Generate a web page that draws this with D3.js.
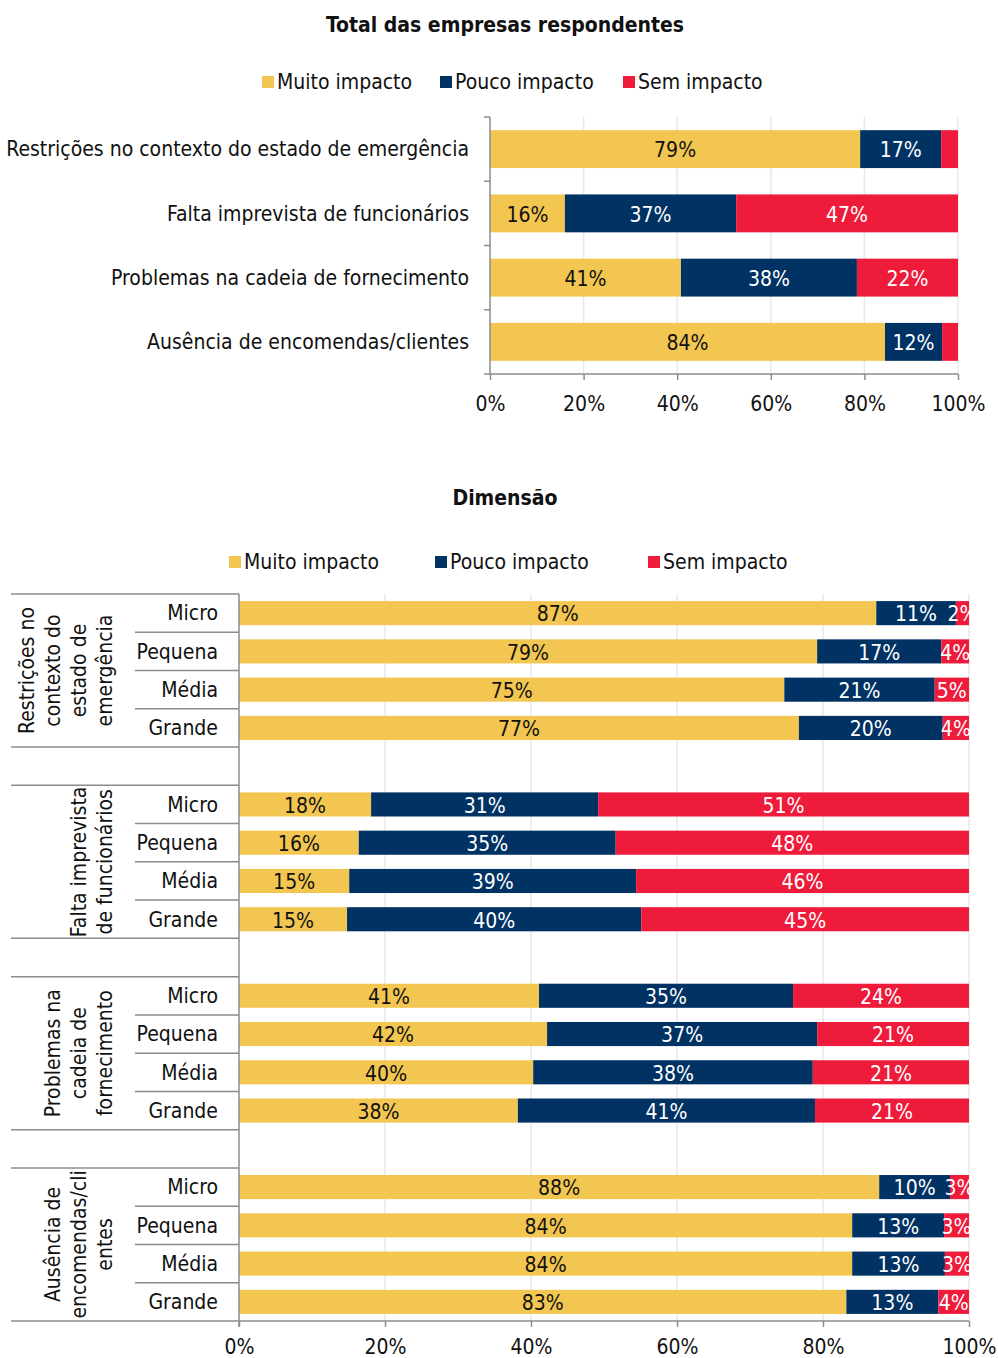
<!DOCTYPE html>
<html><head><meta charset="utf-8">
<script src="https://cdn.jsdelivr.net/npm/d3@7"></script>
<style>
html,body{margin:0;padding:0;background:#fff;}
svg text{font-family:"DejaVu Sans Condensed","DejaVu Sans",sans-serif;}
</style></head>
<body><svg id="c" width="998" height="1358"></svg>
<script>
// ---------- DATA ----------
const seriesNames = ["Muito impacto", "Pouco impacto", "Sem impacto"];
const seriesColors = ["#F2C650", "#003263", "#EE1B3B"];
const labelColors = ["#111", "#fff", "#fff"];

const topTitle = "Total das empresas respondentes";
const topCategories = ["Restrições no contexto do estado de emergência", "Falta imprevista de funcionários", "Problemas na cadeia de fornecimento", "Ausência de encomendas/clientes"];
const topMuito = [79.1, 16.0, 40.8, 84.4];
const topPouco = [17.3, 36.6, 37.6, 12.2];
const topSem   = [3.6, 47.4, 21.6, 3.4];

const bottomTitle = "Dimensão";
const groups = [
  ["Restrições no", "contexto do", "estado de", "emergência"],
  ["Falta imprevista", "de funcionários"],
  ["Problemas na", "cadeia de", "fornecimento"],
  ["Ausência de", "encomendas/cli", "entes"]
];
const sizes = ["Micro", "Pequena", "Média", "Grande"];
// per group, per size
const botMuito = [[87.3, 79.2, 74.7, 76.7], [18.1, 16.4, 15.1, 14.8], [41.1, 42.2, 40.3, 38.2], [87.7, 84.0, 84.0, 83.2]];
const botPouco = [[10.9, 17.0, 20.6, 19.7], [31.1, 35.2, 39.3, 40.3], [34.8, 37.0, 38.3, 40.7], [9.7, 12.6, 12.7, 12.6]];
const botSem   = [[1.8, 3.8, 4.7, 3.6], [50.8, 48.4, 45.6, 44.9], [24.1, 20.8, 21.4, 21.1], [2.6, 3.4, 3.3, 4.2]];

const xTicks = [0, 20, 40, 60, 80, 100];

// ---------- DRAW ----------
const svg = d3.select("#c");
const FS = 21;
const axisColor = "#8c8c8c";
const gridColor = "#e8e8e8";

function legend(y, xs) {
  const g = svg.append("g");
  seriesNames.forEach((n, i) => {
    g.append("rect").attr("x", xs[i]).attr("y", y - 6).attr("width", 12).attr("height", 12).attr("fill", seriesColors[i]);
    g.append("text").attr("x", xs[i] + 15).attr("y", y).attr("dy", "0.35em").attr("font-size", FS).attr("fill", "#111").text(n);
  });
}

function stackRows(muito, pouco, sem) {
  return muito.map((m, i) => {
    const vals = [m, pouco[i], sem[i]];
    let acc = 0;
    return vals.map((v, s) => { const o = {x0: acc, x1: acc + v, v, s}; acc += v; return o; });
  });
}

// ===== TOP CHART =====
svg.append("text").attr("x", 505).attr("y", 25).attr("dy", "0.35em").attr("text-anchor", "middle")
  .attr("font-size", FS).attr("font-weight", "bold").attr("fill", "#111").text(topTitle);
legend(82, [262, 440, 623]);

const tx = d3.scaleLinear().domain([0, 100]).range([490, 958]);
const ty = d3.scaleBand().domain(d3.range(topCategories.length)).range([117, 374]).paddingInner(0.41).paddingOuter(0.205);

const topG = svg.append("g");
topG.selectAll("line.grid").data(xTicks.slice(1)).join("line")
  .attr("x1", d => tx(d)).attr("x2", d => tx(d)).attr("y1", 117).attr("y2", 374)
  .attr("stroke", gridColor).attr("stroke-width", 1.5);

const topRows = stackRows(topMuito, topPouco, topSem);
topRows.forEach((row, i) => {
  row.forEach(seg => {
    topG.append("rect").attr("x", tx(seg.x0)).attr("y", ty(i)).attr("width", tx(seg.x1) - tx(seg.x0)).attr("height", ty.bandwidth())
      .attr("fill", seriesColors[seg.s]);
  });
  row.forEach(seg => {
    if (seg.v < 5) return;
    topG.append("text").attr("x", (tx(seg.x0) + tx(seg.x1)) / 2).attr("y", ty(i) + ty.bandwidth() / 2 + 1).attr("dy", "0.35em")
      .attr("text-anchor", "middle").attr("font-size", FS).attr("fill", labelColors[seg.s]).text(Math.round(seg.v) + "%");
  });
});

// top axes
const topXAxis = d3.axisBottom(tx).tickValues(xTicks).tickFormat(d => d + "%").tickSize(6).tickPadding(16);
const gxa = svg.append("g").attr("transform", "translate(0,374)").call(topXAxis);
gxa.select(".domain").attr("stroke", axisColor).attr("stroke-width", 1.5).attr("d", `M490,0H958`);
gxa.selectAll(".tick line").attr("stroke", axisColor).attr("stroke-width", 1.5);
gxa.selectAll(".tick text").attr("font-size", FS).attr("fill", "#111").attr("font-family", null);

const bounds = d3.range(topCategories.length + 1).map(i => 117 + i * ty.step());
svg.append("line").attr("x1", 490).attr("x2", 490).attr("y1", 117).attr("y2", 374).attr("stroke", axisColor).attr("stroke-width", 1.5);
svg.selectAll("line.ytick").data(bounds).join("line").attr("class", "ytick")
  .attr("x1", 484).attr("x2", 490).attr("y1", d => d).attr("y2", d => d).attr("stroke", axisColor).attr("stroke-width", 1.5);
topCategories.forEach((c, i) => {
  svg.append("text").attr("x", 469).attr("y", ty(i) + ty.bandwidth() / 2).attr("dy", "0.35em").attr("text-anchor", "end")
    .attr("font-size", FS).attr("fill", "#111").text(c);
});

// ===== BOTTOM CHART =====
svg.append("text").attr("x", 505).attr("y", 498).attr("dy", "0.35em").attr("text-anchor", "middle")
  .attr("font-size", FS).attr("font-weight", "bold").attr("fill", "#111").text(bottomTitle);
legend(562, [229, 435, 648]);

const bx = d3.scaleLinear().domain([0, 100]).range([239, 969]);
const nSlots = groups.length * 5 - 1;
const by = d3.scaleBand().domain(d3.range(nSlots)).range([594, 1321]).paddingInner(0.37).paddingOuter(0.185);
const slotTop = i => 594 + i * by.step();

const defs = svg.append("defs");
defs.append("clipPath").attr("id", "bclip").append("rect").attr("x", 239).attr("y", 590).attr("width", 731).attr("height", 740);

const botG = svg.append("g");
botG.selectAll("line.grid").data(xTicks.slice(1)).join("line")
  .attr("x1", d => bx(d)).attr("x2", d => bx(d)).attr("y1", 594).attr("y2", 1321)
  .attr("stroke", gridColor).attr("stroke-width", 1.5);

const labG = svg.append("g").attr("clip-path", "url(#bclip)");
groups.forEach((grp, g) => {
  const rows = stackRows(botMuito[g], botPouco[g], botSem[g]);
  rows.forEach((row, r) => {
    const idx = g * 5 + r;
    row.forEach(seg => {
      botG.append("rect").attr("x", bx(seg.x0)).attr("y", by(idx)).attr("width", bx(seg.x1) - bx(seg.x0)).attr("height", by.bandwidth())
        .attr("fill", seriesColors[seg.s]);
    });
    row.forEach(seg => {
      labG.append("text").attr("x", (bx(seg.x0) + bx(seg.x1)) / 2).attr("y", by(idx) + by.bandwidth() / 2 + 1).attr("dy", "0.35em")
        .attr("text-anchor", "middle").attr("font-size", FS).attr("fill", labelColors[seg.s]).text(Math.round(seg.v) + "%");
    });
    svg.append("text").attr("x", 218).attr("y", by(idx) + by.bandwidth() / 2).attr("dy", "0.35em").attr("text-anchor", "end")
      .attr("font-size", FS).attr("fill", "#111").text(sizes[r]);
    if (r > 0) {
      svg.append("line").attr("x1", 135).attr("x2", 239).attr("y1", slotTop(idx)).attr("y2", slotTop(idx))
        .attr("stroke", axisColor).attr("stroke-width", 1.5);
    }
  });
  // group boundary lines
  [slotTop(g * 5), slotTop(g * 5 + 4)].forEach(yy => {
    svg.append("line").attr("x1", 11).attr("x2", 239).attr("y1", yy).attr("y2", yy).attr("stroke", axisColor).attr("stroke-width", 1.5);
  });
  // group label (rotated)
  const cy = (slotTop(g * 5) + slotTop(g * 5 + 4)) / 2;
  const n = grp.length;
  grp.forEach((line, k) => {
    const xx = 105 - (n - 1 - k) * 26;
    svg.append("text").attr("transform", `translate(${xx},${cy}) rotate(-90)`).attr("dy", "0.35em").attr("text-anchor", "middle")
      .attr("font-size", FS).attr("fill", "#111").text(line);
  });
});

// bottom axes
const botXAxis = d3.axisBottom(bx).tickValues(xTicks).tickFormat(d => d + "%").tickSize(6).tickPadding(12);
const gxb = svg.append("g").attr("transform", "translate(0,1321)").call(botXAxis);
gxb.select(".domain").attr("stroke", axisColor).attr("stroke-width", 1.5).attr("d", `M239,0H969`);
gxb.selectAll(".tick line").attr("stroke", axisColor).attr("stroke-width", 1.5);
gxb.selectAll(".tick text").attr("font-size", FS).attr("fill", "#111").attr("font-family", null);
svg.append("line").attr("x1", 239).attr("x2", 239).attr("y1", 594).attr("y2", 1327).attr("stroke", axisColor).attr("stroke-width", 1.5);
</script></body></html>
